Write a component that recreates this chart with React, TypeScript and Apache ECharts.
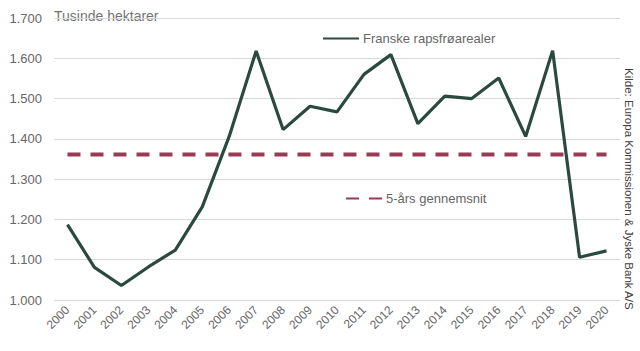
import React, { useEffect, useRef } from "react";
import * as echarts from "echarts";

const years = ["2000","2001","2002","2003","2004","2005","2006","2007","2008","2009","2010","2011","2012","2013","2014","2015","2016","2017","2018","2019","2020"];
const areal = [1187, 1081, 1036, 1082, 1124, 1231, 1406, 1618, 1423, 1481, 1467, 1560, 1609, 1438, 1506, 1500, 1551, 1406, 1619, 1106, 1122];
const snit = [1361,1361,1361,1361,1361,1361,1361,1361,1361,1361,1361,1361,1361,1361,1361,1361,1361,1361,1361,1361,1361];
const seriesNames = ["Franske rapsfrøarealer", "5-års gennemsnit"];
const yTitle = "Tusinde hektarer";
const source = "Kilde: Europa Kommissionen & Jyske Bank A/S";

const FONT = "'Liberation Sans', Arial, sans-serif";
const GREY = "#666666";

export default function App() {
  const ref = useRef<HTMLDivElement>(null);
  useEffect(() => {
    if (!ref.current) return;
    const chart = echarts.init(ref.current, undefined, { renderer: "svg" });
    chart.setOption({
      animation: false,
      backgroundColor: "#ffffff",
      textStyle: { fontFamily: FONT },
      grid: { left: 54, right: 20, top: 18, bottom: 51 },
      legend: [
        {
          data: [seriesNames[0]],
          left: 322, top: 32, padding: 0,
          itemWidth: 36, itemHeight: 14, itemGap: 4,
          itemStyle: { opacity: 0 },
          textStyle: { color: GREY, fontSize: 13, fontFamily: FONT, padding: [0, 0, 0, -1] },
        },
        {
          data: [seriesNames[1]],
          left: 345, top: 192, padding: 0,
          itemWidth: 36, itemHeight: 14, itemGap: 4,
          itemStyle: { opacity: 0 },
          textStyle: { color: GREY, fontSize: 13, fontFamily: FONT, padding: [0, 0, 0, -1] },
        },
      ],
      xAxis: {
        type: "category",
        data: years,
        boundaryGap: true,
        axisLine: { show: false },
        axisTick: { show: false },
        axisLabel: { rotate: 45, color: GREY, fontSize: 12, margin: 8, fontFamily: FONT },
      },
      yAxis: {
        type: "value",
        min: 1000, max: 1700, interval: 100,
        axisLine: { show: false },
        axisTick: { show: false },
        splitLine: { lineStyle: { color: "#d9d9d9", width: 1 } },
        axisLabel: {
          color: GREY, fontSize: 13, margin: 12, fontFamily: FONT,
          formatter: (v: number) => (v / 1000).toFixed(3),
        },
      },
      series: [
        {
          name: seriesNames[0],
          type: "line",
          data: areal,
          symbol: "none",
          lineStyle: { color: "#2a4a3f", width: 3.2 },
          itemStyle: { color: "#2a4a3f" },
          z: 3,
        },
        {
          name: seriesNames[1],
          type: "line",
          data: snit,
          symbol: "none",
          lineStyle: { color: "#9b3a55", width: 4, type: [13, 10], cap: "butt" },
          itemStyle: { color: "#9b3a55" },
          z: 2,
        },
      ],
      graphic: [
        {
          type: "text",
          left: 51, top: 9,
          style: {
            text: yTitle, fill: "#737373", fontSize: 14, fontFamily: FONT,
            backgroundColor: "#ffffff", padding: [0, 5, 0, 3],
          },
        },
        {
          type: "text",
          x: 635, y: 68,
          rotation: -Math.PI / 2,
          style: { text: source, fill: "#404040", fontSize: 11.5, fontFamily: FONT, align: "left", verticalAlign: "top" },
        },
      ],
    });
    return () => chart.dispose();
  }, []);
  return <div ref={ref} style={{ position: "absolute", left: 0, top: 0, width: 640, height: 351 }} />;
}
